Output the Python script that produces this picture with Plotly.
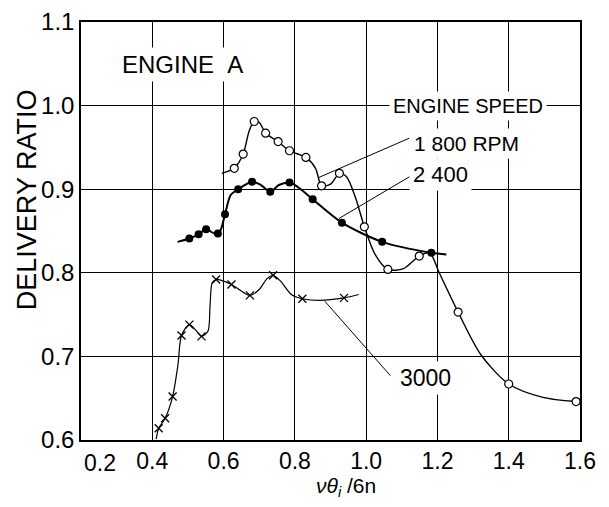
import plotly.graph_objects as go

# axis ticks (0.2 is written separately, shifted right as in the original)
x_ticks = [0.2, 0.4, 0.6, 0.8, 1.0, 1.2, 1.4, 1.6]
x_ticktext = ["", "0.4", "0.6", "0.8", "1.0", "1.2", "1.4", "1.6"]
y_ticks = [0.6, 0.7, 0.8, 0.9, 1.0, 1.1]

# 1800 rpm - measured points (open circles)
rpm1800_x = [0.630, 0.655, 0.686, 0.718, 0.753, 0.785, 0.831, 0.875, 0.925,
             0.995, 1.061, 1.149, 1.258, 1.400, 1.589]
rpm1800_y = [0.925, 0.942, 0.981, 0.967, 0.957, 0.946, 0.938, 0.904, 0.919,
             0.855, 0.804, 0.820, 0.753, 0.667, 0.646]
# faired curve
rpm1800_cx = [0.595, 0.630, 0.655, 0.672, 0.686, 0.700, 0.718, 0.753, 0.785, 0.831, 0.858,
              0.875, 0.900, 0.925, 0.945, 0.970, 0.995, 1.025, 1.061, 1.105, 1.149,
              1.178, 1.205, 1.258, 1.322, 1.400, 1.496, 1.589]
rpm1800_cy = [0.919, 0.925, 0.942, 0.970, 0.981, 0.980, 0.967, 0.957, 0.946, 0.938, 0.925,
              0.904, 0.906, 0.919, 0.915, 0.890, 0.855, 0.822, 0.804, 0.805, 0.820,
              0.824, 0.800, 0.753, 0.702, 0.667, 0.651, 0.646]

# 2400 rpm (filled dots)
rpm2400_x = [0.504, 0.530, 0.551, 0.584, 0.604, 0.641, 0.680, 0.731, 0.785,
             0.850, 0.932, 1.045, 1.183]
rpm2400_y = [0.841, 0.846, 0.852, 0.847, 0.870, 0.900, 0.909, 0.897, 0.908,
             0.888, 0.860, 0.837, 0.824]
rpm2400_cx = [0.471, 0.504, 0.530, 0.551, 0.575, 0.590, 0.604, 0.620, 0.641, 0.680, 0.705,
              0.731, 0.755, 0.785, 0.810, 0.850, 0.932, 1.045, 1.183, 1.225]
rpm2400_cy = [0.837, 0.841, 0.846, 0.852, 0.847, 0.850, 0.870, 0.893, 0.900, 0.909, 0.905,
              0.897, 0.905, 0.908, 0.902, 0.888, 0.860, 0.837, 0.824, 0.822]

# 3000 rpm (crosses)
rpm3000_x = [0.418, 0.436, 0.457, 0.482, 0.504, 0.538, 0.579, 0.622, 0.674,
             0.739, 0.821, 0.938]
rpm3000_y = [0.614, 0.626, 0.652, 0.725, 0.738, 0.724, 0.792, 0.786, 0.773,
             0.797, 0.769, 0.770]
rpm3000_cx = [0.411, 0.418, 0.436, 0.457, 0.472, 0.482, 0.504, 0.525, 0.538, 0.556, 0.562,
              0.568, 0.579, 0.622, 0.674, 0.700, 0.722, 0.739, 0.760, 0.790, 0.821,
              0.870, 0.938, 0.979]
rpm3000_cy = [0.601, 0.614, 0.626, 0.652, 0.690, 0.725, 0.738, 0.730, 0.724, 0.730, 0.760,
              0.788, 0.792, 0.786, 0.773, 0.780, 0.793, 0.797, 0.790, 0.774, 0.769,
              0.767, 0.770, 0.774]

# labels: text, x, y, size
labels = [
    ("ENGINE&nbsp;&nbsp;A", 0.486, 1.049, 24),
    ("ENGINE SPEED", 1.285, 1.0, 20),
    ("1 800 RPM", 1.282, 0.955, 21),
    ("2 400", 1.21, 0.918, 22),
    ("3000", 1.166, 0.674, 23),
]
# leader lines: x0, y0, x1, y1
leaders = [
    (1.121, 0.961, 0.867, 0.914),
    (1.122, 0.915, 0.924, 0.865),
    (1.068, 0.677, 0.884, 0.766),
]

FONT = "Liberation Sans, Arial, sans-serif"

fig = go.Figure()

for cx, cy, w in [(rpm1800_cx, rpm1800_cy, 1.4), (rpm2400_cx, rpm2400_cy, 2.0),
                  (rpm3000_cx, rpm3000_cy, 1.2)]:
    fig.add_trace(go.Scatter(x=cx, y=cy, mode="lines",
                             line=dict(color="black", width=w, shape="spline", smoothing=0.8),
                             showlegend=False, hoverinfo="skip"))

fig.add_trace(go.Scatter(x=rpm1800_x, y=rpm1800_y, mode="markers", showlegend=False,
                         marker=dict(symbol="circle", size=8, color="white",
                                     line=dict(color="black", width=1.2))))
fig.add_trace(go.Scatter(x=rpm2400_x, y=rpm2400_y, mode="markers", showlegend=False,
                         marker=dict(symbol="circle", size=8, color="black")))
fig.add_trace(go.Scatter(x=rpm3000_x, y=rpm3000_y, mode="markers", showlegend=False,
                         marker=dict(symbol="x-thin", size=8,
                                     line=dict(color="black", width=1.3))))

for x0, y0, x1, y1 in leaders:
    fig.add_shape(type="line", x0=x0, y0=y0, x1=x1, y1=y1, xref="x", yref="y",
                  line=dict(color="black", width=1))

for txt, x, y, s in labels:
    fig.add_annotation(x=x, y=y, xref="x", yref="y", text=txt, showarrow=False,
                       xanchor="center", yanchor="middle",
                       font=dict(family=FONT, size=s, color="black"),
                       bgcolor="white", borderpad=3)

fig.add_annotation(x=0.038, y=-0.055, xref="paper", yref="paper", text="0.2",
                   showarrow=False, xanchor="center", yanchor="middle",
                   font=dict(family=FONT, size=23, color="black"))
fig.add_annotation(x=-0.108, y=0.574, xref="paper", yref="paper", text="DELIVERY RATIO",
                   textangle=-90, showarrow=False, xanchor="center", yanchor="middle",
                   font=dict(family=FONT, size=27, color="black"))
fig.add_annotation(x=0.531, y=-0.112, xref="paper", yref="paper",
                   text="<i>νθ<sub>i</sub></i> /6n", showarrow=False,
                   xanchor="center", yanchor="middle",
                   font=dict(family=FONT, size=21, color="black"))

fig.update_xaxes(range=[0.2, 1.6], tickvals=x_ticks, ticktext=x_ticktext, automargin=False,
                 ticklabeloverflow="allow",
                 showgrid=True, gridcolor="black", gridwidth=1.2,
                 showline=True, linecolor="black", linewidth=1.5, mirror=True,
                 zeroline=False, ticks="", tickfont=dict(family=FONT, size=23, color="black"))
fig.update_yaxes(range=[0.6, 1.1], tickvals=y_ticks, tickformat=".1f", automargin=False,
                 ticklabeloverflow="allow",
                 showgrid=True, gridcolor="black", gridwidth=1.2,
                 showline=True, linecolor="black", linewidth=1.5, mirror=True,
                 zeroline=False, ticks="", tickfont=dict(family=FONT, size=24, color="black"))

# the page body adds 8px on each side, so the figure is 16px smaller than the window
fig.update_layout(autosize=False, width=593, height=491,
                  margin=dict(l=73, r=21, t=14, b=59, pad=0),
                  plot_bgcolor="white", paper_bgcolor="white")

fig.write_html("out.html")
